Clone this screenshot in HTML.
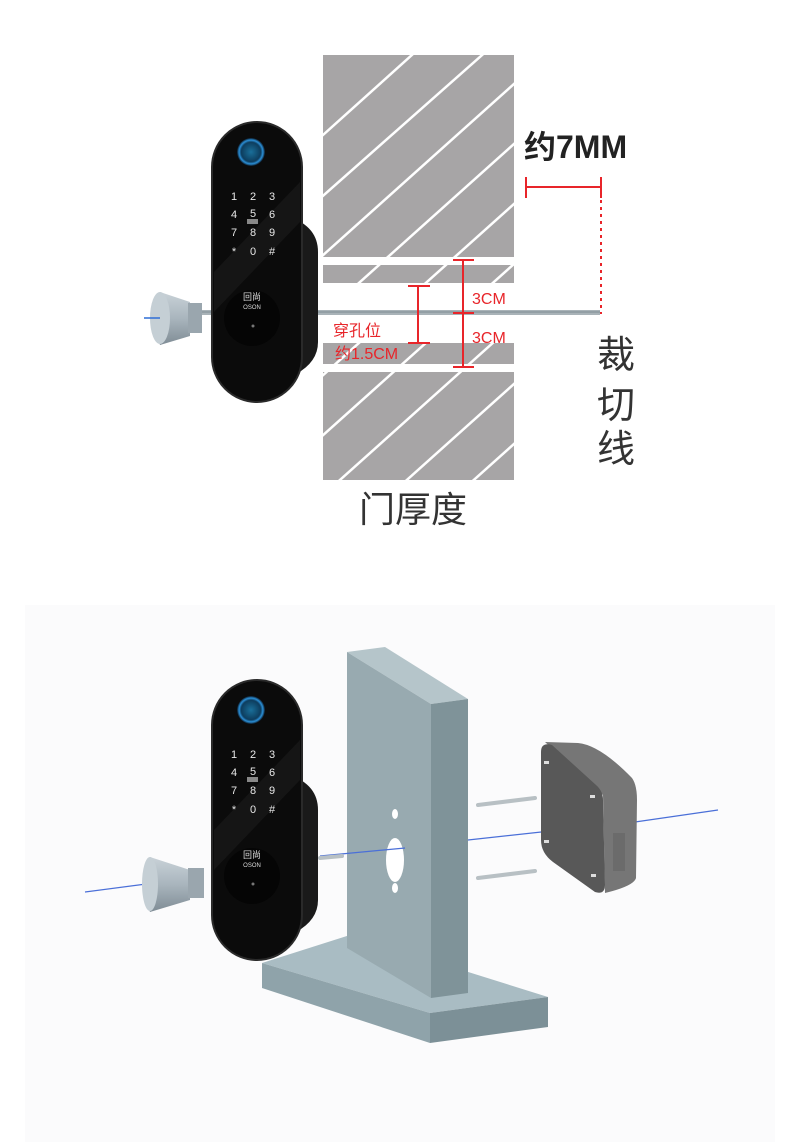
<!DOCTYPE html>
<html><head><meta charset="utf-8"><style>
html,body{margin:0;padding:0;background:#fff;}
svg{display:block;}
text{font-family:"Liberation Sans","Noto Sans CJK SC",sans-serif;}
</style></head><body>
<svg width="790" height="1147" viewBox="0 0 790 1147" xmlns="http://www.w3.org/2000/svg">
<defs>
<clipPath id="wall"><rect x="323" y="55" width="191" height="425"/></clipPath>
<linearGradient id="knob" x1="0" y1="0" x2="0" y2="1"><stop offset="0" stop-color="#c9d2d8"/><stop offset="0.5" stop-color="#a9b5bd"/><stop offset="1" stop-color="#7f8c95"/></linearGradient>
<radialGradient id="fp"><stop offset="0" stop-color="#1a6f9a"/><stop offset="0.7" stop-color="#0d3d5e"/><stop offset="0.85" stop-color="#2b8fd6"/><stop offset="1" stop-color="#0a1a2a"/></radialGradient>
<g id="lock">
  <path d="M290,95 Q318,105 318,130 L318,220 Q318,240 296,252 Z" fill="#1a1a1a"/>
  <rect x="212" y="0" width="90" height="280" rx="45" fill="#0b0b0b" stroke="#2a2a2a" stroke-width="2"/>
  <path d="M214,150 L300,60 L300,100 L214,190 Z" fill="#1c1c1c" opacity="0.6"/>
  <circle cx="251" cy="30" r="14" fill="url(#fp)"/>
  <g fill="#e8e8e8" font-size="11" text-anchor="middle">
    <text x="234" y="78">1</text><text x="253" y="78">2</text><text x="272" y="78">3</text>
    <text x="234" y="96">4</text><text x="253" y="95">5</text><text x="272" y="96">6</text>
    <text x="234" y="114">7</text><text x="253" y="114">8</text><text x="272" y="114">9</text>
    <text x="234" y="133">*</text><text x="253" y="133">0</text><text x="272" y="133">#</text>
  </g>
  <rect x="247" y="97" width="11" height="5" fill="#888"/>
  <circle cx="252" cy="196" r="28" fill="#050505"/>
  <text x="252" y="178" font-size="9" fill="#ddd" text-anchor="middle">回尚</text>
  <text x="252" y="187" font-size="6" fill="#ddd" text-anchor="middle">OSON</text>
  <circle cx="253" cy="204" r="1.5" fill="#777"/>
</g>
</defs>

<!-- TOP -->
<rect x="323" y="55" width="191" height="425" fill="#a7a5a6"/>
<g clip-path="url(#wall)" stroke="#fff" stroke-width="2.5">
  <line x1="273" y1="180" x2="473" y2="0"/>
  <line x1="273" y1="240" x2="533" y2="10"/>
  <line x1="273" y1="300" x2="563" y2="40"/>
  <line x1="273" y1="360" x2="563" y2="100"/>
  <line x1="273" y1="420" x2="563" y2="160"/>
  <line x1="273" y1="480" x2="563" y2="220"/>
  <line x1="273" y1="540" x2="563" y2="280"/>
  <line x1="273" y1="600" x2="563" y2="340"/>
  <line x1="273" y1="660" x2="563" y2="400"/>
  <line x1="273" y1="720" x2="563" y2="460"/>
</g>
<rect x="323" y="257" width="191" height="8" fill="#fff"/>
<rect x="323" y="283" width="191" height="60" fill="#fff"/>
<rect x="323" y="364" width="191" height="8" fill="#fff"/>
<rect x="200" y="310" width="400" height="5" fill="#a9b3b8"/>
<line x1="200" y1="312" x2="600" y2="312" stroke="#7d8b92" stroke-width="1"/>

<!-- knob top -->
<path d="M160,292 Q150,318 160,345 L190,336 L190,302 Z" fill="url(#knob)"/>
<rect x="188" y="303" width="14" height="30" fill="#9aa6ae"/>
<ellipse cx="160" cy="318" rx="10" ry="26" fill="#c5cfd5"/>
<line x1="144" y1="318" x2="160" y2="318" stroke="#2e6dd6" stroke-width="1.5"/>
<use href="#lock" transform="translate(0,122)"/>

<!-- red dims -->
<g stroke="#e8252a" stroke-width="2" fill="none">
  <line x1="463" y1="260" x2="463" y2="367"/>
  <line x1="453" y1="260" x2="474" y2="260"/>
  <line x1="453" y1="313" x2="474" y2="313"/>
  <line x1="453" y1="367" x2="474" y2="367"/>
  <line x1="418" y1="286" x2="418" y2="343"/>
  <line x1="408" y1="286" x2="430" y2="286"/>
  <line x1="408" y1="343" x2="430" y2="343"/>
  <line x1="526" y1="187" x2="601" y2="187"/>
  <line x1="526" y1="177" x2="526" y2="198"/>
  <line x1="601" y1="177" x2="601" y2="198"/>
  <line x1="601" y1="200" x2="601" y2="314" stroke-dasharray="3,4"/>
</g>
<g fill="#e8252a" font-size="16">
  <text x="472" y="304">3CM</text>
  <text x="472" y="343">3CM</text>
  <text x="333" y="336">穿孔位</text>
  <text x="335" y="359">约1.5CM</text>
</g>
<text x="524" y="158" font-size="32" font-weight="bold" fill="#222">约7MM</text>
<g font-size="38" fill="#333">
  <text x="597" y="368">裁</text>
  <text x="597" y="418">切</text>
  <text x="597" y="462">线</text>
</g>
<text x="359" y="522" font-size="36" fill="#333">门厚度</text>

<!-- BOTTOM -->
<rect x="25" y="605" width="750" height="537" fill="#fbfbfc"/>
<polygon points="262,963 350,935 548,997 430,1013" fill="#a9bcc3"/>
<polygon points="262,963 430,1013 430,1043 262,988" fill="#8fa3aa"/>
<polygon points="430,1013 548,997 548,1027 430,1043" fill="#7c9097"/>
<polygon points="347,652 385,647 468,699 431,704" fill="#b5c5ca"/>
<polygon points="347,652 431,704 431,998 347,948" fill="#98aab0"/>
<polygon points="431,704 468,699 468,993 431,998" fill="#7f9399"/>
<ellipse cx="395" cy="860" rx="9" ry="22" fill="#fff"/>
<ellipse cx="395" cy="814" rx="3" ry="5" fill="#fff"/>
<ellipse cx="395" cy="888" rx="3" ry="5" fill="#fff"/>
<line x1="85" y1="892" x2="200" y2="877" stroke="#4a6fd8" stroke-width="1.2"/>
<line x1="320" y1="856" x2="405" y2="848" stroke="#4a6fd8" stroke-width="1.2"/>
<line x1="468" y1="840" x2="578" y2="828" stroke="#4a6fd8" stroke-width="1.2"/>
<line x1="635" y1="822" x2="718" y2="810" stroke="#4a6fd8" stroke-width="1.2"/>
<g stroke="#b8c0c4" stroke-width="4" stroke-linecap="round">
  <line x1="478" y1="805" x2="535" y2="798"/>
  <line x1="478" y1="878" x2="535" y2="871"/>
  <line x1="320" y1="858" x2="342" y2="856"/>
</g>
<path d="M545,742 L578,743 Q600,745 632,778 Q637,785 637,800 L636,878 Q634,886 605,893 L603,795 Z" fill="#767676"/>
<path d="M541,752 Q541,742 552,745 L596,785 Q603,791 603,800 L605,885 Q605,895 595,892 L553,862 Q541,853 541,840 Z" fill="#585858"/>
<rect x="613" y="833" width="12" height="38" fill="#6b6b6b"/>
<g fill="#ddd"><rect x="544" y="761" width="5" height="3"/><rect x="590" y="795" width="5" height="3"/><rect x="544" y="840" width="5" height="3"/><rect x="591" y="874" width="5" height="3"/></g>
<path d="M150,857 Q140,885 150,912 L190,900 L190,870 Z" fill="url(#knob)"/>
<rect x="188" y="868" width="16" height="30" fill="#9aa6ae"/>
<ellipse cx="150" cy="884" rx="8" ry="27" fill="#c5cfd5"/>
<use href="#lock" transform="translate(0,680)"/>
</svg>
</body></html>
